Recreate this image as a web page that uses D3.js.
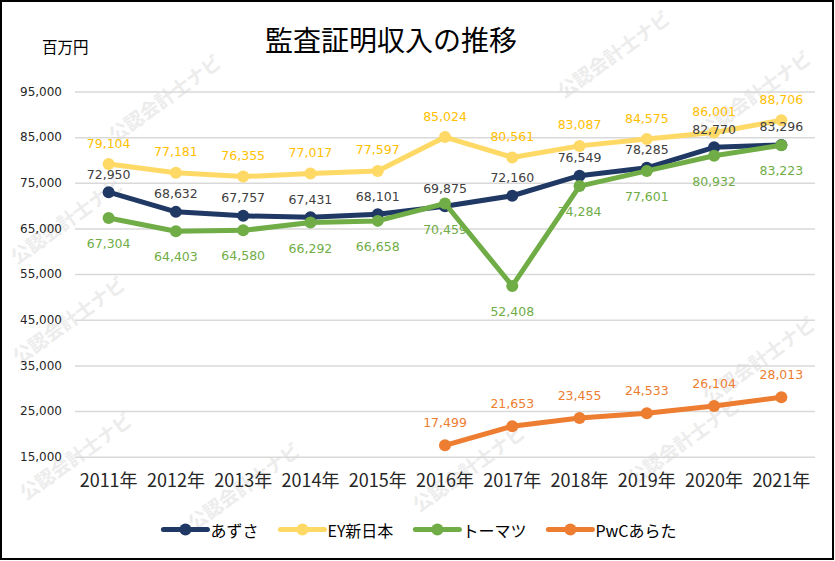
<!DOCTYPE html>
<html>
<head>
<meta charset="utf-8">
<script src="https://cdn.jsdelivr.net/npm/d3@7/dist/d3.min.js"></script>
<style>
  html, body { margin: 0; padding: 0; background: #fff; }
  svg { display: block; }
</style>
</head>
<body>
<svg id="chart" width="835" height="561"></svg>
<script>
// ---------- data ----------
const years = ["2011年","2012年","2013年","2014年","2015年","2016年","2017年","2018年","2019年","2020年","2021年"];
const azusa    = [72950, 68632, 67757, 67431, 68101, 69875, 72160, 76549, 78285, 82770, 83296];
const ey       = [79104, 77181, 76355, 77017, 77597, 85024, 80561, 83087, 84575, 86001, 88706];
const tohmatsu = [67304, 64403, 64580, 66292, 66658, 70459, 52408, 74284, 77601, 80932, 83223];
const pwc      = [null, null, null, null, null, 17499, 21653, 23455, 24533, 26104, 28013];
const seriesNames = ["あずさ", "EY新日本", "トーマツ", "PwCあらた"];
const yTicks = [15000, 25000, 35000, 45000, 55000, 65000, 75000, 85000, 95000];
const titleText = "監査証明収入の推移";
const unitText = "百万円";
const watermarkText = "公認会計士ナビ";

// ---------- styles ----------
const lineColors  = ["#203864", "#FFD966", "#70AD47", "#ED7D31"];
const labelColors = ["#404040", "#FFC000", "#70AD47", "#ED7D31"];
const labelOffset = [-18, -21, 25.5, -23];
const jpFont = "'Noto Sans CJK JP', 'Noto Sans', sans-serif";
const numFont = "'DejaVu Sans', Verdana, sans-serif";

const svg = d3.select("#chart");
const W = 835, H = 561;
const plot = { left: 75, right: 815, top: 91.5, bottom: 456.7 };

// background
svg.append("rect").attr("x", 0).attr("y", 0).attr("width", W).attr("height", H).attr("fill", "#fff");

// watermark (faint, decorative)
const wmCenters = [[615,56],[756,96],[166,100],[68,222],[70,322],[77,458],[245,488],[685,443],[760,362],[470,470]];
const wm = svg.append("g");
wmCenters.forEach(([wx, wy]) => {
  wm.append("text")
    .attr("transform", `translate(${wx},${wy}) rotate(-35.7)`)
    .attr("text-anchor", "middle")
    .attr("dominant-baseline", "middle")
    .attr("font-family", jpFont)
    .attr("font-weight", 700)
    .attr("font-size", 19)
    .attr("fill", "#ececec")
    .text(watermarkText);
});

// scales
const x = d3.scaleBand().domain(years).range([plot.left, plot.right]);
const cx = d => x(d) + x.bandwidth() / 2;
const y = d3.scaleLinear().domain([15000, 95000]).range([plot.bottom, plot.top]);

// y axis + gridlines
const yAxis = d3.axisLeft(y)
  .tickValues(yTicks)
  .tickSize(-(plot.right - plot.left))
  .tickPadding(13)
  .tickFormat(d3.format(","));
const gy = svg.append("g").attr("transform", `translate(${plot.left},0)`).call(yAxis);
gy.select(".domain").remove();
gy.selectAll(".tick line").attr("stroke", "#d9d9d9").attr("stroke-width", 1.5);
gy.selectAll(".tick text")
  .attr("font-family", numFont).attr("font-size", 12).attr("fill", "#262626");

// x axis
const xAxis = d3.axisBottom(x).tickSize(0).tickPadding(18);
const gx = svg.append("g").attr("transform", `translate(0,${plot.bottom})`).call(xAxis);
gx.select(".domain").remove();
gx.selectAll(".tick text")
  .attr("font-family", jpFont).attr("font-size", 18).attr("fill", "#262626");

// series
const allSeries = [azusa, ey, tohmatsu, pwc];
const line = d3.line()
  .defined(d => d.v !== null)
  .x(d => cx(d.year))
  .y(d => y(d.v));

allSeries.forEach((vals, i) => {
  const pts = vals.map((v, j) => ({ year: years[j], v }));
  const g = svg.append("g");
  g.append("path")
    .datum(pts)
    .attr("d", line)
    .attr("fill", "none")
    .attr("stroke", lineColors[i])
    .attr("stroke-width", 5)
    .attr("stroke-linejoin", "round")
    .attr("stroke-linecap", "round");
  g.selectAll("circle")
    .data(pts.filter(d => d.v !== null))
    .join("circle")
    .attr("cx", d => cx(d.year))
    .attr("cy", d => y(d.v))
    .attr("r", 6)
    .attr("fill", lineColors[i]);
});

// data labels
const fmt = d3.format(",");
allSeries.forEach((vals, i) => {
  const pts = vals.map((v, j) => ({ year: years[j], v })).filter(d => d.v !== null);
  svg.append("g").selectAll("text")
    .data(pts)
    .join("text")
    .attr("x", d => cx(d.year))
    .attr("y", d => y(d.v) + labelOffset[i])
    .attr("text-anchor", "middle")
    .attr("dominant-baseline", "central")
    .attr("font-family", numFont)
    .attr("font-size", 12.5)
    .attr("fill", labelColors[i])
    .text(d => fmt(d.v));
});

// title & unit
svg.append("text")
  .attr("x", 391).attr("y", 39)
  .attr("text-anchor", "middle").attr("dominant-baseline", "central")
  .attr("font-family", jpFont).attr("font-size", 28).attr("fill", "#000")
  .text(titleText);
svg.append("text")
  .attr("x", 42).attr("y", 46)
  .attr("dominant-baseline", "central")
  .attr("font-family", jpFont).attr("font-size", 15.5).attr("fill", "#000")
  .text(unitText);

// legend
const legY = 529.5;
const leg = svg.append("g");
let cursor = 0;
seriesNames.forEach((name, i) => {
  const it = leg.append("g").attr("transform", `translate(${cursor},0)`);
  it.append("line").attr("x1", 0).attr("x2", 44).attr("y1", legY).attr("y2", legY)
    .attr("stroke", lineColors[i]).attr("stroke-width", 5).attr("stroke-linecap", "round");
  it.append("circle").attr("cx", 22).attr("cy", legY).attr("r", 6).attr("fill", lineColors[i]);
  const t = it.append("text").attr("x", 47).attr("y", legY)
    .attr("dominant-baseline", "central")
    .attr("font-family", jpFont).attr("font-size", 16).attr("fill", "#000")
    .text(name);
  const w = t.node().getComputedTextLength();
  cursor += 47 + w + 22;
});
const legW = cursor - 22;
leg.attr("transform", `translate(${420 - legW / 2},0)`);

// border
svg.append("rect").attr("x", 1).attr("y", 1).attr("width", 832).attr("height", 558)
  .attr("fill", "none").attr("stroke", "#000").attr("stroke-width", 2);
</script>
</body>
</html>
